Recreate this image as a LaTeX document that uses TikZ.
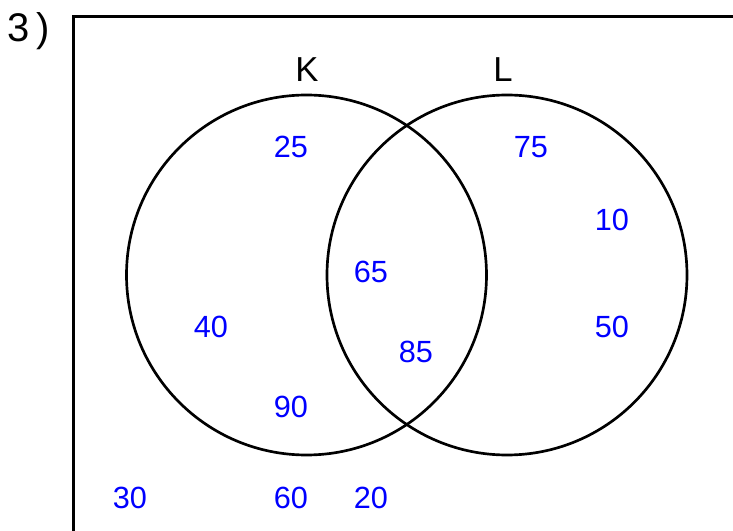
\documentclass[tikz,border=0pt]{standalone}
\usepackage{fontspec}
\setmainfont{Liberation Sans}
\usepackage{tikz}

\begin{document}
\begin{tikzpicture}[x=0.75pt, y=-0.75pt,
    setcircle/.style={circle, draw, line width=2pt, minimum size=270pt, inner sep=0pt},
    setname/.style={font=\fontsize{26}{30}\selectfont},
    count/.style={text=blue, font=\fontsize{23}{27}\selectfont, inner sep=0pt}]
  \useasboundingbox (0,0) rectangle (733,531);
  \clip (0,0) rectangle (733,531);
  \draw[line width=2.25pt] (73.5,560) -- (73.5,16.5) -- (760,16.5);
  \node[font=\fontsize{30}{34}\selectfont, inner sep=0pt] (num) at (29,31) {3\,)};

  \node[setcircle] (setK) at (306.5,275) {};
  \node[setcircle] (setL) at (507,275) {};
  \node[setname] (labK) at (307,70) {K};
  \node[setname] (labL) at (503,70) {L};

  \node[count] (n25) at (291,147) {25};
  \node[count] (n75) at (531,147) {75};
  \node[count] (n10) at (612,220) {10};
  \node[count] (n65) at (371,272) {65};
  \node[count] (n40) at (211,327) {40};
  \node[count] (n50) at (612,327) {50};
  \node[count] (n85) at (416,352) {85};
  \node[count] (n90) at (291,407) {90};
  \node[count] (n30) at (130,498) {30};
  \node[count] (n60) at (291,498) {60};
  \node[count] (n20) at (371,498) {20};
\end{tikzpicture}
\end{document}
